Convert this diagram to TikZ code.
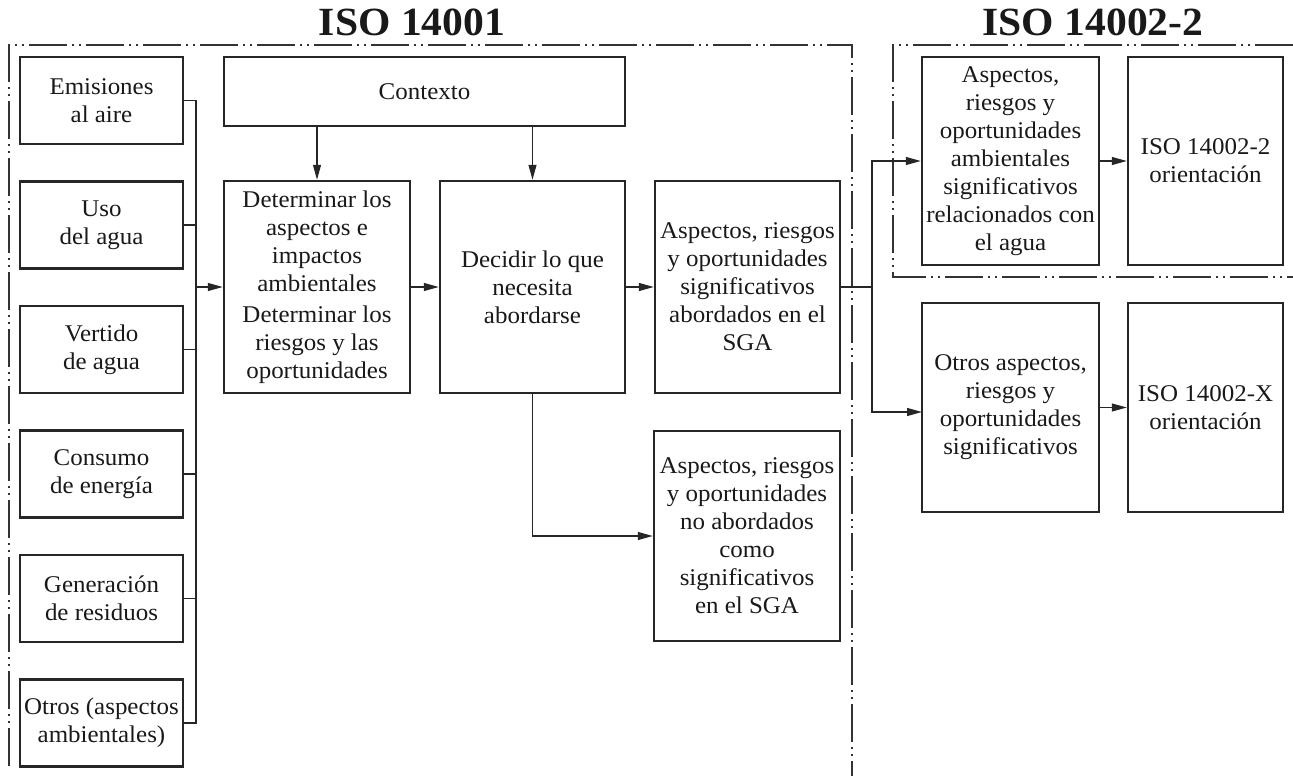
\documentclass[tikz,border=0pt]{standalone}
\usepackage{fontspec}
\setmainfont[FakeStretch=1.04]{Liberation Serif}
\usetikzlibrary{arrows.meta}
\tikzset{
  box/.style={draw=black!85, line width=2.5pt, align=center, inner sep=1pt,
    font=\fontsize{24}{28}\selectfont, text=black!90},
  conn/.style={draw=black!85, line width=1.2pt},
  arr/.style={conn, -{Triangle[length=15pt,width=8pt]}},
  frm/.style={draw=black!80, line width=1.3pt,
    dash pattern=on 38pt off 5pt on 2pt off 5pt on 2pt off 5pt},
  title/.style={font=\bfseries\fontsize{40}{42}\selectfont, text=black!90}
}
\begin{document}
\begin{tikzpicture}[x=1pt,y=-1pt]
\useasboundingbox (0,0) rectangle (1293,776);
% frames
\draw[frm] (9,766) -- (9,45) -- (852,45) -- (852,776);
\draw[frm] (1293,45) -- (893,45) -- (893,277) -- (1293,277);
% titles
\node[title] (t1) at (412,22) {ISO 14001};
\node[title] (t2) at (1093,22) {ISO 14002-2};
% left column
\node[box, minimum width=163pt, minimum height=87pt] (e1) at (101.5,100.5) {Emisiones\\al aire};
\node[box, minimum width=163pt, minimum height=87pt] (e2) at (101.5,225) {Uso\\del agua};
\node[box, minimum width=163pt, minimum height=87pt] (e3) at (101.5,349.5) {Vertido\\de agua};
\node[box, minimum width=163pt, minimum height=87pt] (e4) at (101.5,474) {Consumo\\de energía};
\node[box, minimum width=163pt, minimum height=87pt] (e5) at (101.5,598.5) {Generación\\de residuos};
\node[box, minimum width=163pt, minimum height=87pt] (e6) at (101.5,723) {Otros (aspectos\\ambientales)};
% main
\node[box, minimum width=401pt, minimum height=69pt] (ctx) at (424.5,91.5) {Contexto};
\node[box, minimum width=186pt, minimum height=212pt] (det) at (317,287)
  {Determinar los\\aspectos e\\impactos\\ambientales\\[3pt]Determinar los\\riesgos y las\\oportunidades};
\node[box, minimum width=185pt, minimum height=212pt] (dec) at (532.5,287)
  {Decidir lo que\\necesita\\abordarse};
\node[box, minimum width=185pt, minimum height=212pt] (sga) at (747.5,287)
  {Aspectos, riesgos\\y oportunidades\\significativos\\abordados en el\\SGA};
\node[box, minimum width=186pt, minimum height=210pt] (noab) at (747,536)
  {Aspectos, riesgos\\y oportunidades\\no abordados\\como\\significativos\\en el SGA};
\node[box, minimum width=177pt, minimum height=208pt] (water) at (1010.5,161)
  {Aspectos,\\riesgos y\\oportunidades\\ambientales\\significativos\\relacionados con\\el agua};
\node[box, minimum width=155pt, minimum height=208pt] (iso2) at (1205.5,161)
  {ISO 14002-2\\orientación};
\node[box, minimum width=177pt, minimum height=209pt] (otros) at (1010.5,407.5)
  {Otros aspectos,\\riesgos y\\oportunidades\\significativos};
\node[box, minimum width=155pt, minimum height=209pt] (isox) at (1205.5,407.5)
  {ISO 14002-X\\orientación};
% bus
\coordinate (bus) at (196,0);
\draw[conn] (e1.east) -- (e1.east -| bus) |- (e6.east);
\draw[conn] (e2.east) -- (e2.east -| bus);
\draw[conn] (e3.east) -- (e3.east -| bus);
\draw[conn] (e4.east) -- (e4.east -| bus);
\draw[conn] (e5.east) -- (e5.east -| bus);
\draw[arr] (det.west -| bus) -- (det.west);
% contexto arrows
\draw[arr] (ctx.south -| det.north) -- (det.north);
\draw[arr] (ctx.south -| dec.north) -- (dec.north);
\draw[arr] (det.east) -- (dec.west);
\draw[arr] (dec.east) -- (sga.west);
\draw[arr] (dec.south) |- (noab.west);
% split
\coordinate (split) at (872,0);
\coordinate (lowin) at (922,412);
\draw[conn] (sga.east) -- (sga.east -| split);
\draw[arr] (sga.east -| split) |- (water.west);
\draw[arr] (sga.east -| split) |- (lowin);
\draw[arr] (water.east) -- (iso2.west);
\draw[arr] (otros.east) -- (isox.west);
\end{tikzpicture}
\end{document}
